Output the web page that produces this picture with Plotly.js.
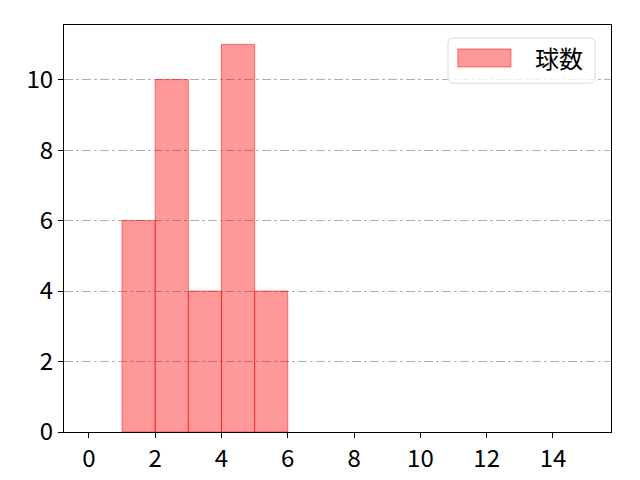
<!DOCTYPE html>
<html>
<head>
<meta charset="utf-8">
<script src="https://cdn.plot.ly/plotly-3.0.1.min.js"></script>
<style>html,body{margin:0;padding:0;background:#fff;}#chart{width:640px;height:480px;}</style>
</head>
<body>
<div id="chart"></div>
<script>
var binStarts = [1, 2, 3, 4, 5];
var counts = [6, 10, 4, 11, 4];
var seriesName = "球数";
var xTicks = [0, 2, 4, 6, 8, 10, 12, 14];
var yTicks = [0, 2, 4, 6, 8, 10];

var FONT = "Noto Sans CJK JP, sans-serif";

var trace = {
  type: "bar",
  x: binStarts,
  y: counts,
  width: 1,
  offset: 0,
  name: seriesName,
  marker: {color: "rgba(255,0,0,0.4)", line: {color: "rgba(255,0,0,0.5)", width: 1}},
  showlegend: false,
  hoverinfo: "skip"
};

function roundRect(x0, y0, x1, y1) {
  var rx = 0.010, ry = 0.013;
  return "M" + (x0 + rx) + "," + y1 + " L" + (x1 - rx) + "," + y1 +
    " Q" + x1 + "," + y1 + " " + x1 + "," + (y1 - ry) +
    " L" + x1 + "," + (y0 + ry) + " Q" + x1 + "," + y0 + " " + (x1 - rx) + "," + y0 +
    " L" + (x0 + rx) + "," + y0 + " Q" + x0 + "," + y0 + " " + x0 + "," + (y0 + ry) +
    " L" + x0 + "," + (y1 - ry) + " Q" + x0 + "," + y1 + " " + (x0 + rx) + "," + y1 + " Z";
}

var layout = {
  width: 640, height: 480,
  margin: {l: 64, r: 29, t: 25, b: 48},
  paper_bgcolor: "#fff", plot_bgcolor: "#fff",
  font: {family: FONT, size: 24, color: "#000"},
  bargap: 0,
  xaxis: {
    range: [-0.75, 15.75], tickvals: xTicks, ticktext: xTicks.map(String),
    showgrid: false, zeroline: false, showline: true, linecolor: "#000", linewidth: 1,
    mirror: true, ticks: "outside", ticklen: 5, tickcolor: "#000"
  },
  yaxis: {
    range: [0, 11.55], tickvals: yTicks, ticktext: yTicks.map(String),
    showgrid: true, gridcolor: "#b0b0b0", griddash: "dashdot", gridwidth: 1,
    zeroline: false, showline: true, linecolor: "#000", linewidth: 1,
    mirror: true, ticks: "outside", ticklen: 5, tickcolor: "#000"
  },
  shapes: [
    {type: "path", xref: "paper", yref: "paper", path: roundRect(0.702, 0.857, 0.971, 0.968),
     fillcolor: "rgba(255,255,255,0.8)", line: {color: "#d9d9d9", width: 1}},
    {type: "rect", xref: "paper", yref: "paper", x0: 0.720, x1: 0.817, y0: 0.897, y1: 0.941,
     fillcolor: "rgba(255,0,0,0.4)", line: {color: "rgba(255,0,0,0.5)", width: 1}}
  ],
  annotations: [
    {xref: "paper", yref: "paper", x: 0.857, y: 0.919, xanchor: "left", yanchor: "middle",
     text: seriesName, showarrow: false, font: {family: FONT, size: 24, color: "#000"}}
  ]
};

Plotly.newPlot("chart", [trace], layout, {staticPlot: true, displayModeBar: false});
</script>
</body>
</html>
